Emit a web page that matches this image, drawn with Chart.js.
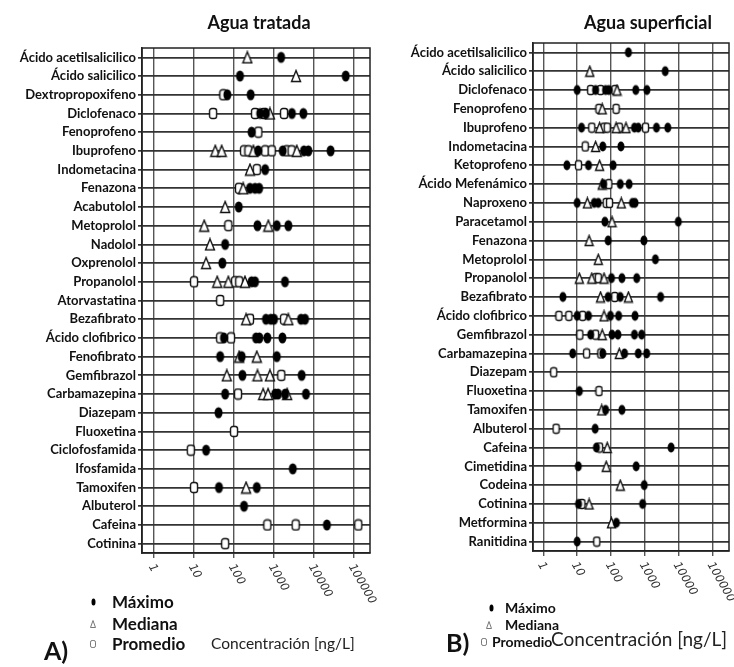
<!DOCTYPE html>
<html>
<head>
<meta charset="utf-8">
<script src="https://cdn.jsdelivr.net/npm/chart.js@4.4.1/dist/chart.umd.min.js"></script>
<style>
    body { margin: 0; background: #fff; width: 734px; height: 667px; position: relative; overflow: hidden;
           font-family: Lato, 'Open Sans', sans-serif; color: #111; }
    .box { position: absolute; top: 0; height: 620px; }
    #boxA { left: 0; width: 400px; }
    #boxB { left: 372px; width: 362px; }
    .txt { position: absolute; white-space: nowrap; line-height: 1; }
    .title { font-weight: bold; font-size: 18px; transform: translateX(-50%); }
    .leg { font-weight: bold; font-size: 17px; }
    .legB { font-weight: bold; font-size: 14px; }
    .tag { font-weight: bold; font-size: 25px; }
    .axis { font-size: 15.5px; color: #222; }
    .ico { position: absolute; }
</style>
</head>
<body>
<div class="box" id="boxA"><canvas id="chartA"></canvas></div>
<div class="box" id="boxB"><canvas id="chartB"></canvas></div>

<div class="txt title" style="left:259px; top:13px;">Agua tratada</div>
<div class="txt title" style="left:648px; top:13px;">Agua superficial</div>

<div class="txt leg" style="left:112px; top:593px;">Máximo</div>
<div class="txt leg" style="left:112px; top:615px;">Mediana</div>
<div class="txt leg" style="left:112px; top:635px;">Promedio</div>
<div class="txt tag" style="left:44px; top:638px;">A)</div>
<div class="txt axis" style="left:211px; top:636px;">Concentración [ng/L]</div>

<div class="txt legB" style="left:505px; top:601px;">Máximo</div>
<div class="txt legB" style="left:505px; top:618px;">Mediana</div>
<div class="txt legB" style="left:492px; top:635px;">Promedio</div>
<div class="txt tag" style="left:446px; top:630px;">B)</div>
<div class="txt axis" style="left:551px; top:629px; font-size:19px;">Concentración [ng/L]</div>

<script>
// x axis decades
const tickVals = [1, 10, 100, 1000, 10000, 100000];
const tickLabels = ['1', '10', '100', '1000', '10000', '100000'];

// A) Agua tratada
const catsA = ['Ácido acetilsalicilico', 'Ácido salicilico', 'Dextropropoxifeno', 'Diclofenaco', 'Fenoprofeno',
    'Ibuprofeno', 'Indometacina', 'Fenazona', 'Acabutolol', 'Metoprolol', 'Nadolol', 'Oxprenolol', 'Propanolol',
    'Atorvastatina', 'Bezafibrato', 'Ácido clofibrico', 'Fenofibrato', 'Gemfibrazol', 'Carbamazepina', 'Diazepam',
    'Fluoxetina', 'Ciclofosfamida', 'Ifosfamida', 'Tamoxifen', 'Albuterol', 'Cafeina', 'Cotinina'];
const maxA = [[1500], [141, 62000], [68, 260], [450, 630, 2800, 5400], [275],
    [400, 1650, 5600, 7200, 26000], [600], [250, 335, 425], [131], [385, 1170, 2280], [60], [51], [275, 335, 1880],
    [], [630, 830, 1000, 4730, 5950], [56, 355, 430, 680, 1620], [45, 155, 1170], [162, 4900],
    [60, 1070, 1260, 1900, 6300], [41], [], [20], [2940], [42, 370], [178], [21000], []];
const medianA = [[215], [3550], [], [790], [],
    [34, 49, 305, 3700], [250], [170], [60], [18, 720], [25], [20], [38, 72, 188],
    [], [200, 2280], [], [135, 370], [66, 385, 790],
    [535, 710, 2130], [], [], [], [], [200], [], [], []];
const meanA = [[], [], [54], [30, 335, 560, 1780], [405],
    [178, 229, 600, 875, 2080, 2750], [370], [133], [], [72], [], [], [10, 106, 135],
    [45], [250, 1780], [45, 84], [], [1520],
    [126], [], [100], [8.3], [], [10], [], [680, 3470, 128000], [60]];

// B) Agua superficial
const catsB = ['Ácido acetilsalicilico', 'Ácido salicilico', 'Diclofenaco', 'Fenoprofeno', 'Ibuprofeno',
    'Indometacina', 'Ketoprofeno', 'Ácido Mefenámico', 'Naproxeno', 'Paracetamol', 'Fenazona', 'Metoprolol',
    'Propanolol', 'Bezafibrato', 'Ácido clofibrico', 'Gemfibrazol', 'Carbamazepina', 'Diazepam', 'Fluoxetina',
    'Tamoxifen', 'Albuterol', 'Cafeina', 'Cimetidina', 'Codeina', 'Cotinina', 'Metformina', 'Ranitidina'];
const maxB = [[325], [3960], [10, 35, 69, 86, 535, 1140], [], [13.5, 490, 635, 2180, 4700],
    [57, 195], [5, 21.6, 115], [60, 187, 340], [10, 32, 42, 427, 510], [66, 9600], [82, 930], [2030],
    [103, 209, 570], [3.8, 82, 187, 2890], [10, 21.6, 96, 167, 510], [25, 107, 159, 490, 800],
    [7.4, 57, 250, 635, 1120], [], [11.6], [69, 209], [34], [37, 5900], [10.8, 550], [950], [11, 850], [144], [10]];
const medianB = [[], [23.6], [150], [55], [46, 141, 275],
    [35], [46], [55], [20, 200], [107], [22.5], [42],
    [11.6, 27, 62], [49, 325], [62], [55],
    [175], [], [], [53], [], [77], [72], [187], [22.5], [103], []];
const meanB = [[], [], [25, 49, 130], [44, 141], [27, 62, 77, 175, 1040],
    [17.3], [11], [86], [72, 90], [], [], [],
    [35, 42], [128], [2.9, 5.7, 14.5], [12, 35],
    [19, 50], [2.04], [44], [], [2.4], [46], [], [], [13.8], [], [38]];

function makeMark(kind, w, h, lw, stroke) {
    const c = document.createElement('canvas');
    c.width = w + 3;
    c.height = h + 3;
    const ctx = c.getContext('2d');
    const cx = c.width / 2, cy = c.height / 2;
    ctx.lineWidth = lw;
    ctx.strokeStyle = stroke;
    ctx.fillStyle = '#fff';
    ctx.beginPath();
    if (kind === 'max') {
        ctx.ellipse(cx, cy, w / 2, h / 2, 0, 0, Math.PI * 2);
        ctx.fillStyle = '#000';
        ctx.fill();
        return c;
    }
    if (kind === 'median') {
        ctx.moveTo(cx, cy - h / 2);
        ctx.lineTo(cx + w / 2, cy + h / 2);
        ctx.lineTo(cx - w / 2, cy + h / 2);
        ctx.closePath();
    } else {
        ctx.roundRect(cx - w / 2, cy - h / 2, w, h, Math.min(w, h) / 3);
    }
    ctx.fill();
    ctx.stroke();
    return c;
}

function toPoints(cats, series) {
    const pts = [];
    series.forEach((vals, i) => vals.forEach(v => pts.push({ x: v, y: cats[i] })));
    return pts;
}

// decade labels, turned clockwise like the original
const rotatedTicks = {
    id: 'rotatedTicks',
    afterDraw(chart) {
        const xs = chart.scales.x;
        const ctx = chart.ctx;
        ctx.save();
        ctx.fillStyle = '#333';
        ctx.font = 'italic 11.5px "DejaVu Sans"';
        ctx.textAlign = 'left';
        ctx.textBaseline = 'middle';
        tickVals.forEach((v, i) => {
            ctx.save();
            ctx.translate(xs.getPixelForValue(v) - 3, chart.chartArea.bottom + 12);
            ctx.rotate(Math.PI / 3);
            ctx.fillText(tickLabels[i], 0, 0);
            ctx.restore();
        });
        ctx.restore();
    }
};

const frame = {
    id: 'frame',
    beforeDatasetsDraw(chart) {
        const a = chart.chartArea;
        const ctx = chart.ctx;
        ctx.save();
        ctx.strokeStyle = '#222';
        ctx.lineWidth = 1.5;
        ctx.strokeRect(a.left, a.top, a.right - a.left, a.bottom - a.top);
        ctx.restore();
    }
};

function buildChart(id, cats, maxS, medS, meanS, opts) {
    const ctx = document.getElementById(id).getContext('2d');
    return new Chart(ctx, {
        type: 'scatter',
        data: {
            datasets: [{
                label: 'Máximo',
                data: toPoints(cats, maxS),
                pointStyle: makeMark('max', opts.mk[0], opts.mk[1], 1.2, '#000'),
            }, {
                label: 'Mediana',
                data: toPoints(cats, medS),
                pointStyle: makeMark('median', opts.mk[0] + 1, opts.mk[1], 1.4, '#111'),
            }, {
                label: 'Promedio',
                data: toPoints(cats, meanS),
                pointStyle: makeMark('mean', opts.mk[0] - 1, opts.mk[1] - 1, 1.4, '#111'),
            }]
        },
        options: {
            responsive: true,
            maintainAspectRatio: false,
            animation: false,
            layout: {
                padding: { top: opts.top, right: opts.right, left: 0, bottom: 0 }
            },
            plugins: {
                legend: { display: false },
                tooltip: { enabled: false }
            },
            scales: {
                x: {
                    type: 'logarithmic',
                    min: 0.5,
                    max: opts.xmax,
                    afterBuildTicks: s => { s.ticks = tickVals.map(v => ({ value: v })); },
                    afterFit: s => { s.height = opts.xh; },
                    ticks: { display: false },
                    grid: { color: '#555', lineWidth: 1.4, tickLength: 5 },
                    border: { color: '#222', width: 1.5 }
                },
                y: {
                    type: 'category',
                    labels: cats,
                    offset: true,
                    afterFit: s => { s.width = opts.yw; },
                    grid: { offset: false, color: '#333', lineWidth: 1.7, tickLength: 4 },
                    border: { color: '#222', width: 1.5 },
                    ticks: {
                        autoSkip: false,
                        padding: 2,
                        color: '#111',
                        font: { family: 'Lato', size: 13, weight: 'bold' }
                    }
                }
            }
        },
        plugins: [frame, rotatedTicks]
    });
}

buildChart('chartA', catsA, maxA, medianA, meanA, { top: 48, right: 30, xh: 67, yw: 142, xmax: 251000, mk: [8, 11] });
buildChart('chartB', catsB, maxB, medianB, meanB, { top: 43, right: 2, xh: 69, yw: 161, xmax: 300000, mk: [7, 10] });

// legend glyphs
[['max', 93, 602], ['median', 93, 624], ['mean', 93, 644],
 ['max', 491, 608], ['median', 489, 625], ['mean', 484, 642]].forEach(([k, x, y]) => {
    const c = makeMark(k, k === 'max' ? 4 : 5, 7, 1, '#777');
    c.className = 'ico';
    c.style.left = (x - c.width / 2) + 'px';
    c.style.top = (y - c.height / 2) + 'px';
    document.body.appendChild(c);
});
</script>
</body>
</html>
